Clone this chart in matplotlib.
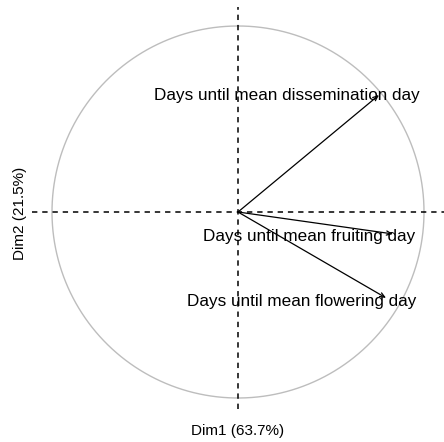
import numpy as np
import matplotlib
matplotlib.use("Agg")
import matplotlib.pyplot as plt

variables = ["Days until mean dissemination day",
             "Days until mean fruiting day",
             "Days until mean flowering day"]
dim1 = [0.758, 0.833, 0.796]
dim2 = [0.629, -0.118, -0.462]
dim1_label = "Dim1 (63.7%)"
dim2_label = "Dim2 (21.5%)"

# label placement (layout, in data units)
label_pos = [(0.265, 0.625), (0.385, -0.13), (0.34, -0.48)]

plt.rcParams['font.family'] = ['Liberation Sans', 'DejaVu Sans']

W, H = 444, 442
fig = plt.figure(figsize=(W / 100, H / 100), dpi=100)
ax = fig.add_axes([0, 0, 1, 1])
cx, cy, r = 238, 230, 186
ax.set_xlim(-cx / r, (W - cx) / r)
ax.set_ylim(-cy / r, (H - cy) / r)
ax.axis('off')

t = np.linspace(0, 2 * np.pi, 400)
ax.plot(np.cos(t), np.sin(t), color='#bdbdbd', lw=1.0)

ax.plot([-1.105, 1.2], [0, 0], color='black', lw=1.1, ls=(0, (3.5, 3.2)))
ax.plot([0, 0], [-1.06, 1.10], color='black', lw=1.1, ls=(0, (3.5, 3.2)))

for x, y in zip(dim1, dim2):
    ax.annotate("", xy=(x, y), xytext=(0, 0),
                arrowprops=dict(arrowstyle='->,head_length=0.35,head_width=0.15',
                                color='black', lw=0.9, shrinkA=0, shrinkB=0))

for name, (lx, ly) in zip(variables, label_pos):
    ax.text(lx, ly, name, ha='center', va='center', fontsize=12.3, color='black')

fig.text(238 / W, 1 - 431 / H, dim1_label, ha='center', va='center', fontsize=11, color='black')
fig.text(20 / W, 1 - 213 / H, dim2_label, ha='center', va='center', fontsize=11,
         rotation=90, color='black')

fig.savefig("out.png", dpi=100)
